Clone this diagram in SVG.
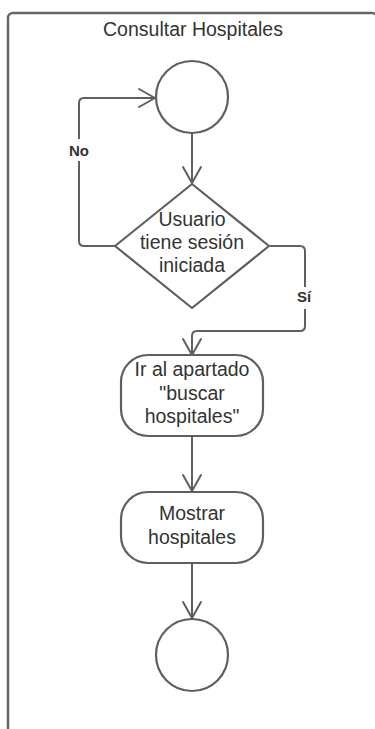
<svg xmlns="http://www.w3.org/2000/svg" width="375" height="729" viewBox="0 0 375 729">
  <defs>
    <marker id="arrow" viewBox="-19 -11 21 22" refX="0" refY="0" markerWidth="21" markerHeight="22" markerUnits="userSpaceOnUse" orient="auto">
      <path d="M-16,-9 L0,0 L-16,9" fill="none" stroke="#5f5f5f" stroke-width="2" stroke-linejoin="round" stroke-linecap="round"/>
    </marker>
    <style>
      .shape { fill: #ffffff; stroke: #5f5f5f; stroke-width: 2.2; }
      .frame { fill: #ffffff; stroke: #666666; stroke-width: 2.5; }
      .edge { fill: none; stroke: #5f5f5f; stroke-width: 2; marker-end: url(#arrow); }
      .txt { font-family: "Liberation Sans", Arial, sans-serif; font-size: 19.5px; fill: #333333; text-anchor: middle; }
      .lbl { font-family: "Liberation Sans", Arial, sans-serif; font-size: 15px; font-weight: bold; fill: #333333; text-anchor: middle; }
    </style>
  </defs>

  <rect width="375" height="729" fill="#ffffff"/>

  <!-- swimlane frame -->
  <g id="lane">
    <rect class="frame" x="8" y="13" width="369" height="740" rx="5"/>
    <text class="txt" x="193" y="36">Consultar Hospitales</text>
  </g>

  <!-- connectors -->
  <g id="connectors">
    <path class="edge" d="M192,133 V183"/>
    <path class="edge" d="M115,246 H84 Q79,246 79,241 V103 Q79,98 84,98 H155"/>
    <path class="edge" d="M270,246 H300 Q305,246 305,251 V326 Q305,331 300,331 H197 Q192,331 192,336 V355"/>
    <path class="edge" d="M192,436 V491"/>
    <path class="edge" d="M192,563 V618"/>
    <rect x="65" y="139" width="28" height="22" fill="#ffffff"/>
    <text class="lbl" x="79" y="156">No</text>
    <rect x="293" y="287" width="24" height="22" fill="#ffffff"/>
    <text class="lbl" x="304" y="302">Sí</text>
  </g>

  <g id="start">
    <circle class="shape" cx="192" cy="97" r="36"/>
  </g>

  <g id="decision">
    <path class="shape" d="M192,184 L269,246 L192,308 L115,246 Z" stroke-linejoin="round"/>
    <text class="txt" x="192" y="226">Usuario</text>
    <text class="txt" x="192" y="249">tiene sesión</text>
    <text class="txt" x="192" y="272">iniciada</text>
  </g>

  <g id="goto-search">
    <rect class="shape" x="121" y="355" width="142" height="81" rx="27"/>
    <text class="txt" x="192" y="376">Ir al apartado</text>
    <text class="txt" x="192" y="400">"buscar</text>
    <text class="txt" x="192" y="423">hospitales"</text>
  </g>

  <g id="show-hospitals">
    <rect class="shape" x="121" y="492" width="142" height="71" rx="27"/>
    <text class="txt" x="192" y="520">Mostrar</text>
    <text class="txt" x="192" y="544">hospitales</text>
  </g>

  <g id="end">
    <circle class="shape" cx="192" cy="655" r="36"/>
  </g>
</svg>
